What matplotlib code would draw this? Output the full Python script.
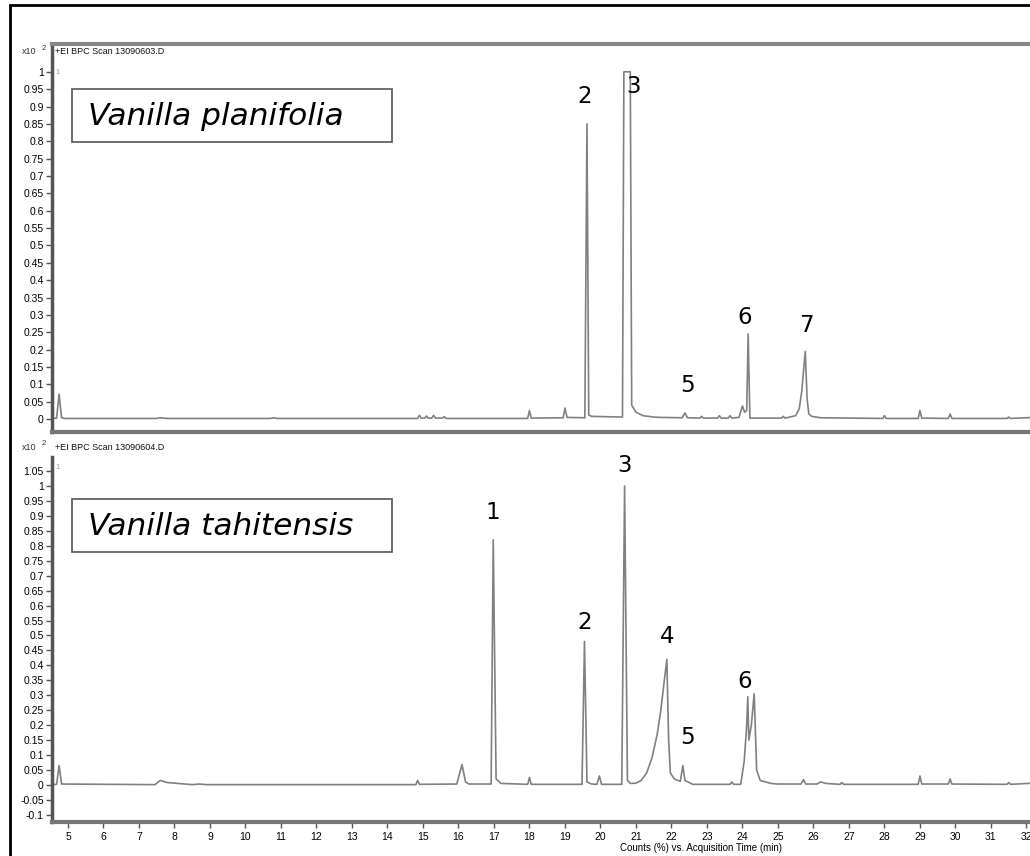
import matplotlib
matplotlib.use("Agg")
import matplotlib.pyplot as plt
from matplotlib.patches import Rectangle
import numpy as np

# trace vertices: (time in min, counts x10^2)
planifolia_t = [4.55, 4.68, 4.75, 4.82, 4.9, 7.5, 7.6, 7.8, 10.7, 10.8, 10.9,
                14.85, 14.9, 14.95, 15.05, 15.1, 15.15, 15.25, 15.3, 15.35, 15.55, 15.6, 15.65,
                17.95, 18.0, 18.05, 18.95, 19.0, 19.06, 19.56, 19.62, 19.67, 19.75,
                20.62, 20.66, 20.84, 20.88, 21.0, 21.2, 21.5, 21.7,
                22.3, 22.38, 22.45, 22.8, 22.85, 22.9, 23.3, 23.35, 23.4, 23.6, 23.65, 23.7,
                23.9, 24.0, 24.06, 24.12, 24.16, 24.21,
                25.1, 25.15, 25.2, 25.5, 25.6, 25.67, 25.73, 25.77, 25.82, 25.87, 25.95, 26.2,
                27.95, 28.0, 28.05, 28.95, 29.0, 29.05, 29.8, 29.85, 29.9,
                31.45, 31.5, 31.55, 32.2]
planifolia_y = [0.002, 0.003, 0.072, 0.004, 0.002, 0.002, 0.004, 0.002, 0.002, 0.004, 0.002,
                0.002, 0.011, 0.003, 0.003, 0.009, 0.003, 0.003, 0.011, 0.003, 0.003, 0.007, 0.002,
                0.002, 0.025, 0.003, 0.004, 0.032, 0.005, 0.004, 0.85, 0.012, 0.008,
                0.006, 1.0, 1.0, 0.04, 0.02, 0.01, 0.006, 0.005,
                0.004, 0.018, 0.004, 0.003, 0.008, 0.003, 0.003, 0.01, 0.003, 0.003, 0.01, 0.003,
                0.005, 0.038, 0.02, 0.025, 0.245, 0.003,
                0.003, 0.008, 0.003, 0.01, 0.03, 0.08, 0.15, 0.195, 0.06, 0.015, 0.008, 0.004,
                0.002, 0.01, 0.002, 0.002, 0.025, 0.003, 0.002, 0.015, 0.002,
                0.002, 0.006, 0.002, 0.005]

tahitensis_t = [4.55, 4.68, 4.75, 4.82, 7.45, 7.6, 7.8, 8.2, 8.5, 8.7, 8.9,
                14.8, 14.85, 14.9, 15.95, 16.1, 16.2, 16.3,
                16.92, 16.98, 17.06, 17.2, 17.95, 18.0, 18.05,
                19.48, 19.55, 19.62, 19.75, 19.9, 19.97, 20.03,
                20.6, 20.68, 20.76, 20.85, 21.0, 21.15, 21.3, 21.45, 21.6, 21.7, 21.78,
                21.87, 21.92, 21.97, 22.08,
                22.25, 22.32, 22.38, 22.6, 23.65, 23.7, 23.75,
                23.95, 24.05, 24.12, 24.15, 24.18, 24.25, 24.33, 24.4, 24.5, 24.8, 25.0,
                25.65, 25.72, 25.78, 26.1, 26.2, 26.35, 26.75, 26.8, 26.85,
                28.95, 29.0, 29.05, 29.8, 29.85, 29.9, 31.45, 31.5, 31.55, 32.2]
tahitensis_y = [0.001, 0.002, 0.065, 0.003, 0.001, 0.015, 0.008, 0.004, 0.001, 0.003, 0.001,
                0.001, 0.015, 0.002, 0.003, 0.068, 0.01, 0.003,
                0.003, 0.82, 0.02, 0.005, 0.002, 0.025, 0.002,
                0.002, 0.48, 0.01, 0.003, 0.002, 0.03, 0.002,
                0.002, 1.0, 0.015, 0.005, 0.006, 0.015, 0.04, 0.09, 0.17, 0.25, 0.33,
                0.42, 0.15, 0.04, 0.02,
                0.012, 0.065, 0.015, 0.002, 0.002, 0.01, 0.002,
                0.002, 0.08, 0.2, 0.295, 0.15, 0.2, 0.305, 0.05, 0.015, 0.005, 0.003,
                0.003, 0.018, 0.003, 0.003, 0.01, 0.005, 0.002, 0.008, 0.002,
                0.002, 0.03, 0.003, 0.003, 0.02, 0.003, 0.002, 0.008, 0.002, 0.006]

# peak numbers and where they are written
planifolia_labels = ["2", "3", "5", "6", "7"]
planifolia_lab_t = [19.56, 20.92, 22.46, 24.07, 25.8]
planifolia_lab_y = [0.93, 0.957, 0.098, 0.294, 0.27]

tahitensis_labels = ["1", "2", "3", "4", "5", "6"]
tahitensis_lab_t = [16.97, 19.56, 20.69, 21.87, 22.46, 24.07]
tahitensis_lab_y = [0.913, 0.545, 1.067, 0.498, 0.157, 0.345]

xticks = list(range(5, 33))

W, H = 1030, 856
fig = plt.figure(figsize=(W / 100, H / 100), dpi=100)
plt.rcParams['font.family'] = ['Liberation Sans', 'DejaVu Sans']

# black outer frame
fig.patches.append(Rectangle((10 / W, -0.01), 1.02, 1 - 5 / H + 0.01,
                             transform=fig.transFigure, fill=False, lw=2, ec='black'))


def fx(px):
    return px / W


def fy(py):
    return 1 - py / H


def style_axes(ax, ymin, ymax, yticks, show_x):
    ax.set_xlim(4.55, 32.1)
    ax.set_ylim(ymin, ymax)
    ax.set_yticks(yticks)
    ax.set_yticklabels(["%g" % round(v, 2) for v in yticks], fontsize=7.5)
    for s in ['top', 'right']:
        ax.spines[s].set_visible(False)
    ax.spines['left'].set_color('#555555')
    ax.spines['left'].set_linewidth(2.5)
    ax.spines['bottom'].set_color('#777777')
    ax.spines['bottom'].set_linewidth(3)
    ax.tick_params(axis='y', length=4, width=1, color='#555555', pad=2)
    if show_x:
        ax.set_xticks(xticks)
        ax.set_xticklabels([str(v) for v in xticks], fontsize=7.5)
        ax.tick_params(axis='x', length=4, width=1, color='#555555', pad=3)
    else:
        ax.set_xticks([])


# top panel: Vanilla planifolia
ax1 = fig.add_axes([fx(52), fy(432), 1 - fx(52), fy(44) - fy(432)])
style_axes(ax1, -0.037, 1.08, np.round(np.arange(0, 1.001, 0.05), 2), False)
ax1.plot(planifolia_t, planifolia_y, color='#808080', lw=1.2)
for lab, t, y in zip(planifolia_labels, planifolia_lab_t, planifolia_lab_y):
    ax1.text(t, y, lab, fontsize=16.5, family='DejaVu Sans', ha='center', va='center')
fig.add_artist(plt.Line2D([fx(52), 1], [fy(44), fy(44)], transform=fig.transFigure,
                          color='#888888', lw=3))

# bottom panel: Vanilla tahitensis
ax2 = fig.add_axes([fx(52), fy(822), 1 - fx(52), fy(457) - fy(822)])
style_axes(ax2, -0.124, 1.097, np.round(np.arange(-0.1, 1.051, 0.05), 2), True)
ax2.plot(tahitensis_t, tahitensis_y, color='#808080', lw=1.2)
for lab, t, y in zip(tahitensis_labels, tahitensis_lab_t, tahitensis_lab_y):
    ax2.text(t, y, lab, fontsize=16.5, family='DejaVu Sans', ha='center', va='center')

# instrument header texts
for py, scan in [(52, "+EI BPC Scan 13090603.D"), (447, "+EI BPC Scan 13090604.D")]:
    fig.text(fx(22), fy(py), "x10", fontsize=6.5, va='center', color='#333333')
    fig.text(fx(42), fy(py - 4), "2", fontsize=5.5, va='center', color='#333333')
    fig.text(fx(55), fy(py), scan, fontsize=6.5, va='center', color='#111111')
    fig.text(fx(55), fy(py + 20), "1", fontsize=5.5, va='center', color='#999999')

# sample name boxes
for (top, bot), name in [((89, 142), "Vanilla planifolia"), ((499, 552), "Vanilla tahitensis")]:
    fig.patches.append(Rectangle((fx(72), fy(bot)), fx(392) - fx(72), fy(top) - fy(bot),
                                 transform=fig.transFigure, fill=True, fc='white',
                                 ec='#555555', lw=1.2, zorder=5))
    fig.text(fx(88), fy((top + bot) / 2 + 1), name, fontsize=22.5, style='italic',
             family='DejaVu Sans', va='center', ha='left', zorder=6)

fig.text(fx(620), fy(848), "Counts (%) vs. Acquisition Time (min)", fontsize=7,
         va='center', ha='left')

fig.savefig("out.png", dpi=100)
